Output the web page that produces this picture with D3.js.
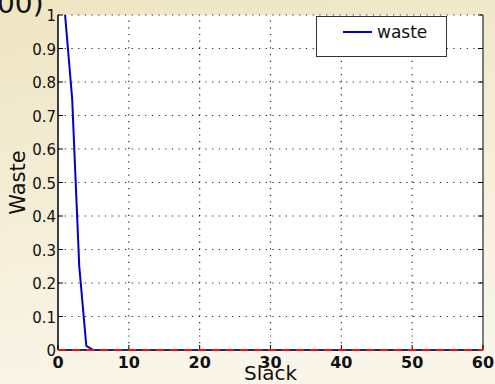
<!DOCTYPE html>
<html>
<head>
<script src="https://d3js.org/d3.v7.min.js"></script>
<style>
  body { margin: 0; }
  text { font-family: "DejaVu Sans", sans-serif; fill: #111; }
</style>
</head>
<body>
<svg width="495" height="384"></svg>
<script>
// slack values and the waste measured at each one
const slack = d3.range(1, 61);
const waste = [1, 0.75, 0.25, 0.012].concat(d3.range(5, 61).map(() => 0));
const reference = [0, 0]; // red dashed zero line, from slack 0 to 60
const xTicks = [0, 10, 20, 30, 40, 50, 60];
const yTicks = [0, 0.1, 0.2, 0.3, 0.4, 0.5, 0.6, 0.7, 0.8, 0.9, 1];

const svg = d3.select("svg");

// beige slide background
const defs = svg.append("defs");
const grad = defs.append("linearGradient").attr("id", "bg")
    .attr("x1", 0).attr("y1", 0).attr("x2", 0.2).attr("y2", 1);
grad.append("stop").attr("offset", "0%").attr("stop-color", "#efe5c2");
grad.append("stop").attr("offset", "100%").attr("stop-color", "#f9f5e8");
svg.append("rect").attr("width", 495).attr("height", 384).attr("fill", "url(#bg)");

// title left over from the slide, cut off at the top
svg.append("text").attr("x", -3).attr("y", 13)
    .style("font-size", "28px").text("00)");

const x = d3.scaleLinear().domain([0, 60]).range([58, 483]);
const y = d3.scaleLinear().domain([0, 1]).range([350, 15]);

svg.append("rect").attr("x", x(0)).attr("y", y(1))
    .attr("width", x(60) - x(0)).attr("height", y(0) - y(1)).attr("fill", "#fff");

// dotted grid
const grid = svg.append("g").attr("stroke", "#222").attr("stroke-width", 1.2)
    .attr("stroke-dasharray", "1.2,5.5");
grid.selectAll(".gx").data(xTicks.slice(1, -1)).enter().append("line")
    .attr("x1", d => x(d)).attr("x2", d => x(d)).attr("y1", y(0)).attr("y2", y(1));
grid.selectAll(".gy").data(yTicks.slice(1)).enter().append("line")
    .attr("x1", x(0)).attr("x2", x(60)).attr("y1", d => y(d)).attr("y2", d => y(d));

// inward ticks on all sides
const ticks = svg.append("g").attr("stroke", "#000").attr("stroke-width", 1);
ticks.selectAll(".tl").data(yTicks).enter().append("line")
    .attr("x1", x(0)).attr("x2", x(0) + 5).attr("y1", d => y(d)).attr("y2", d => y(d));
ticks.selectAll(".tr").data(yTicks).enter().append("line")
    .attr("x1", x(60)).attr("x2", x(60) - 5).attr("y1", d => y(d)).attr("y2", d => y(d));
ticks.selectAll(".tb").data(xTicks).enter().append("line")
    .attr("x1", d => x(d)).attr("x2", d => x(d)).attr("y1", y(0)).attr("y2", y(0) - 5);

// tick labels
svg.selectAll(".ylab").data(yTicks).enter().append("text")
    .attr("x", x(0) - 2).attr("y", d => y(d) + 6)
    .attr("text-anchor", "end").style("font-size", "15px")
    .text(d => d3.format("~g")(d));
svg.selectAll(".xlab").data(xTicks).enter().append("text")
    .attr("x", d => x(d)).attr("y", y(0) + 18)
    .attr("text-anchor", "middle").style("font-size", "16px").style("font-weight", "bold")
    .text(d => d);

// frame
svg.append("line").attr("x1", x(0)).attr("x2", x(0)).attr("y1", y(0)).attr("y2", y(1))
    .attr("stroke", "#000").attr("stroke-width", 1.5);
svg.append("line").attr("x1", x(60)).attr("x2", x(60)).attr("y1", y(0)).attr("y2", y(1))
    .attr("stroke", "#000").attr("stroke-width", 1);

// data
const line = d3.line().x((d, i) => x(slack[i])).y(d => y(d));
svg.append("path").datum(waste).attr("d", line)
    .attr("fill", "none").attr("stroke", "#0000cc").attr("stroke-width", 2);
svg.append("line").attr("x1", x(0)).attr("x2", x(60))
    .attr("y1", y(reference[0])).attr("y2", y(reference[1]))
    .attr("stroke", "#1a2a6a").attr("stroke-width", 2);
svg.append("line").attr("x1", x(0)).attr("x2", x(60))
    .attr("y1", y(reference[0])).attr("y2", y(reference[1]))
    .attr("stroke", "#ee1111").attr("stroke-width", 2).attr("stroke-dasharray", "8,6");

// axis titles
svg.append("text").attr("x", x(30)).attr("y", 380)
    .attr("text-anchor", "middle").style("font-size", "20px").text("Slack");
svg.append("text").attr("transform", `translate(25,${y(0.5)}) rotate(-90)`)
    .attr("text-anchor", "middle").style("font-size", "21px").text("Waste");

// legend
const lg = svg.append("g");
lg.append("rect").attr("x", 316.5).attr("y", 16.5).attr("width", 130).attr("height", 40)
    .attr("fill", "#fff").attr("stroke", "#333").attr("stroke-width", 1);
lg.append("line").attr("x1", 343).attr("x2", 372).attr("y1", 32).attr("y2", 32)
    .attr("stroke", "#0000cc").attr("stroke-width", 2);
lg.append("text").attr("x", 377).attr("y", 38).style("font-size", "17px").text("waste");
</script>
</body>
</html>
